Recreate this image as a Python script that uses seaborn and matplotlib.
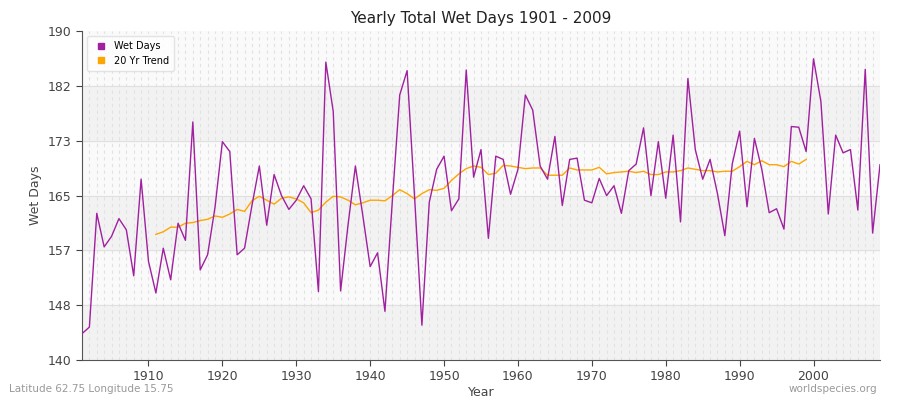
import matplotlib
matplotlib.use("Agg")
import matplotlib.pyplot as plt
import seaborn as sns
import numpy as np
import pandas as pd

years = list(range(1901, 2010))
wet_days = [144.0,145.0,162.3,157.2,158.8,161.5,159.8,152.8,167.5,155.0,
            150.2,157.0,152.2,160.8,158.2,176.2,153.7,156.0,163.2,173.2,
            171.7,156.0,157.0,163.5,169.5,160.5,168.2,165.0,162.9,164.3,
            166.5,164.5,150.4,185.3,177.8,150.5,160.5,169.5,162.0,154.2,
            156.3,147.4,164.2,180.3,184.0,165.0,145.3,164.0,169.0,171.0,
            162.7,164.5,184.1,167.8,172.0,158.5,171.0,170.5,165.2,169.0,
            180.3,178.0,169.5,167.5,174.0,163.5,170.5,170.7,164.3,163.9,
            167.6,165.0,166.5,162.3,168.8,169.8,175.3,165.0,173.2,164.6,
            174.2,161.0,182.8,172.0,167.5,170.5,165.3,158.9,169.8,174.8,
            163.3,173.7,169.0,162.4,163.0,159.9,175.5,175.4,171.7,185.8,
            179.3,162.2,174.2,171.5,172.0,162.8,184.2,159.3,169.7]
trend_years = list(range(1911, 2000))
trend = [159.1,159.5,160.2,160.2,160.8,160.9,161.2,161.4,161.9,161.7,
         162.2,162.9,162.6,164.2,164.9,164.3,163.7,164.6,164.8,164.5,
         163.9,162.4,162.8,164.0,164.9,164.8,164.3,163.6,163.9,164.3,
         164.3,164.2,165.0,165.9,165.3,164.5,165.3,165.9,165.8,166.1,
         167.3,168.3,169.1,169.5,169.3,168.2,168.4,169.6,169.5,169.3,
         169.1,169.2,169.2,168.1,168.1,168.1,169.2,168.9,168.9,168.9,
         169.3,168.3,168.5,168.6,168.7,168.5,168.7,168.2,168.2,168.6,
         168.6,168.8,169.2,169.0,168.8,168.8,168.6,168.7,168.7,169.4,
         170.2,169.7,170.3,169.7,169.7,169.4,170.2,169.8,170.5]
ytick_labels = ["140","148","157","165","173","182","190"]

df = pd.DataFrame({"Year": years, "Wet Days": wet_days})
dt = pd.DataFrame({"Year": trend_years, "Trend": trend})

fig = plt.figure(figsize=(9, 4), dpi=100)
ax = fig.add_axes([0.0911, 0.1, 0.8867, 0.822])
ax.set_facecolor("#fafafa")
yt = np.linspace(140, 190, 7)
for i in range(6):
    if i % 2 == 0:
        ax.axhspan(yt[i], yt[i+1], color="#f2f2f2", zorder=0)
for x in range(1901, 2010):
    ax.axvline(x, color="#e2e2e2", lw=0.8, ls=(0, (3, 3)), zorder=0.5)
for y in yt[1:-1]:
    ax.axhline(y, color="#e0e0e0", lw=0.8, zorder=0.6)

sns.lineplot(data=df, x="Year", y="Wet Days", color="#a020a0", lw=1, ax=ax, label="Wet Days", zorder=3)
sns.lineplot(data=dt, x="Year", y="Trend", color="#ffa500", lw=1, ax=ax, label="20 Yr Trend", zorder=2)

ax.set_xlim(1901, 2009)
ax.set_ylim(140, 190)
ax.set_yticks(yt)
ax.set_yticklabels(ytick_labels)
ax.set_xticks(range(1910, 2010, 10))
for s in ["top", "right"]:
    ax.spines[s].set_visible(False)
for s in ["left", "bottom"]:
    ax.spines[s].set_color("#555555")
ax.tick_params(colors="#444444", labelsize=9, length=4)
ax.set_xlabel("Year", fontsize=9, color="#444444", labelpad=2)
ax.set_ylabel("Wet Days", fontsize=9, color="#444444")
ax.set_title("Yearly Total Wet Days 1901 - 2009", fontsize=11, color="#222222")

h = [plt.Line2D([], [], marker="s", ls="", color="#a020a0", ms=4),
     plt.Line2D([], [], marker="s", ls="", color="#ffa500", ms=4)]
ax.legend(h, ["Wet Days", "20 Yr Trend"], loc="upper left", fontsize=7, frameon=True,
          facecolor="white", edgecolor="#dddddd", handletextpad=0.3, borderpad=0.5)

fig.text(0.01, 0.02, "Latitude 62.75 Longitude 15.75", fontsize=7.5, color="#999999")
fig.text(0.975, 0.02, "worldspecies.org", fontsize=7.5, color="#999999", ha="right")
fig.savefig("out.png", dpi=100)
